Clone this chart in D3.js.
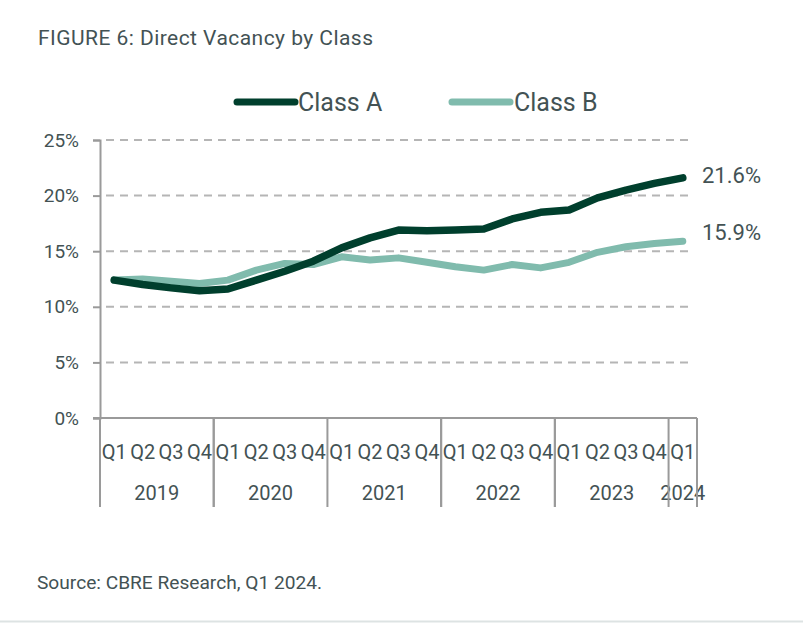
<!DOCTYPE html>
<html>
<head>
<meta charset="utf-8">
<script src="https://cdn.jsdelivr.net/npm/d3@7"></script>
<style>
  html, body { margin: 0; padding: 0; background: #fff; }
  svg { display: block; font-family: Roboto, "Noto Sans", sans-serif; }
</style>
</head>
<body>
<svg id="chart" width="803" height="623"></svg>
<script>
const quarters = ["Q1","Q2","Q3","Q4","Q1","Q2","Q3","Q4","Q1","Q2","Q3","Q4","Q1","Q2","Q3","Q4","Q1","Q2","Q3","Q4","Q1"];
const years = ["2019","2019","2019","2019","2020","2020","2020","2020","2021","2021","2021","2021","2022","2022","2022","2022","2023","2023","2023","2023","2024"];
const classA = [12.4,12.0,11.7,11.45,11.6,12.4,13.2,14.1,15.3,16.2,16.9,16.85,16.9,17.0,17.9,18.5,18.7,19.8,20.5,21.1,21.6];
const classB = [12.4,12.5,12.3,12.1,12.4,13.3,13.9,13.8,14.5,14.2,14.4,14.0,13.6,13.3,13.8,13.5,14.0,14.9,15.4,15.7,15.9];
const yTicks = [0,5,10,15,20,25];
const seriesNames = ["Class A","Class B"];
const seriesColors = ["#003f2d","#80bbad"];

const svg = d3.select("#chart");
const textColor = "#435254";
const axisColor = "#9a9a9a";

const pLeft = 100, pRight = 697, pTop = 140, pBottom = 418;
const idx = d3.range(quarters.length);
const x = d3.scaleBand().domain(idx).range([pLeft, pRight]).padding(0);
const y = d3.scaleLinear().domain([0, 25]).range([pBottom, pTop]);
const cx = i => x(i) + x.bandwidth() / 2;

// Title
svg.append("text").attr("x", 38).attr("y", 45)
  .attr("font-size", 21).attr("fill", textColor)
  .attr("textLength", 335).attr("lengthAdjust", "spacing")
  .text("FIGURE 6: Direct Vacancy by Class");

// Legend
const legendPos = [{x1: 237, x2: 295, tx: 298}, {x1: 452, x2: 510, tx: 514}];
seriesNames.forEach((n, i) => {
  const p = legendPos[i];
  svg.append("line").attr("x1", p.x1).attr("x2", p.x2).attr("y1", 102).attr("y2", 102)
    .attr("stroke", seriesColors[i]).attr("stroke-width", 7).attr("stroke-linecap", "round");
  svg.append("text").attr("x", p.tx).attr("y", 111).attr("font-size", 25)
    .attr("fill", textColor).text(n);
});

// Gridlines
const grid = svg.append("g");
yTicks.filter(t => t > 0).forEach(t => {
  grid.append("line").attr("x1", pLeft + 6).attr("x2", 693).attr("y1", y(t)).attr("y2", y(t))
    .attr("stroke", "#b5b5b5").attr("stroke-width", 2).attr("stroke-dasharray", "8,6");
});

// Y axis
const yAxis = d3.axisLeft(y).tickValues(yTicks).tickSize(7).tickPadding(14).tickFormat(d => d + "%");
const yg = svg.append("g").attr("transform", `translate(${pLeft},0)`).call(yAxis);
yg.select(".domain").attr("stroke", axisColor).attr("stroke-width", 2);
yg.selectAll(".tick line").attr("stroke", axisColor).attr("stroke-width", 2);
yg.selectAll(".tick text").attr("font-size", 19).attr("fill", textColor).attr("font-family", "Roboto, sans-serif");

// X axis baseline
svg.append("line").attr("x1", pLeft - 7).attr("x2", pRight).attr("y1", pBottom).attr("y2", pBottom)
  .attr("stroke", axisColor).attr("stroke-width", 2);

// Quarter labels
svg.append("g").selectAll("text").data(idx).join("text")
  .attr("x", d => cx(d)).attr("y", 459).attr("text-anchor", "middle")
  .attr("font-size", 20).attr("fill", textColor).text(d => quarters[d]);

// Year groups
const groups = d3.groups(idx, d => years[d]);
const seps = new Set([pLeft, pRight]);
groups.forEach(([yr, ids]) => {
  const x0 = x(ids[0]), x1 = x(ids[ids.length - 1]) + x.bandwidth();
  seps.add(x0); seps.add(x1);
  svg.append("text").attr("x", (x0 + x1) / 2).attr("y", 500).attr("text-anchor", "middle")
    .attr("font-size", 20).attr("fill", textColor).text(yr);
});
[...seps].forEach(sx => {
  svg.append("line").attr("x1", sx).attr("x2", sx).attr("y1", pBottom).attr("y2", 507)
    .attr("stroke", axisColor).attr("stroke-width", 2);
});

// Lines
const line = d3.line().x((d, i) => cx(i)).y(d => y(d)).curve(d3.curveLinear);
[classB, classA].forEach((s, k) => {
  const ci = k === 0 ? 1 : 0;
  svg.append("path").datum(s).attr("d", line).attr("fill", "none")
    .attr("stroke", seriesColors[ci]).attr("stroke-width", k === 0 ? 7 : 7.5)
    .attr("stroke-linecap", "round").attr("stroke-linejoin", "round");
});

// End labels
const labelShift = [5, -1];
[classA, classB].forEach((s, i) => {
  const v = s[s.length - 1];
  svg.append("text").attr("x", 702).attr("y", y(v) + labelShift[i]).attr("font-size", 22)
    .attr("fill", textColor).text(v.toFixed(1) + "%");
});

// Source
svg.append("text").attr("x", 37).attr("y", 589).attr("font-size", 18)
  .attr("fill", textColor).attr("textLength", 285).attr("lengthAdjust", "spacingAndGlyphs")
  .text("Source: CBRE Research, Q1 2024.");

// Bottom rule
svg.append("line").attr("x1", 0).attr("x2", 803).attr("y1", 621.5).attr("y2", 621.5)
  .attr("stroke", "#dde3e3").attr("stroke-width", 2);
</script>
</body>
</html>
